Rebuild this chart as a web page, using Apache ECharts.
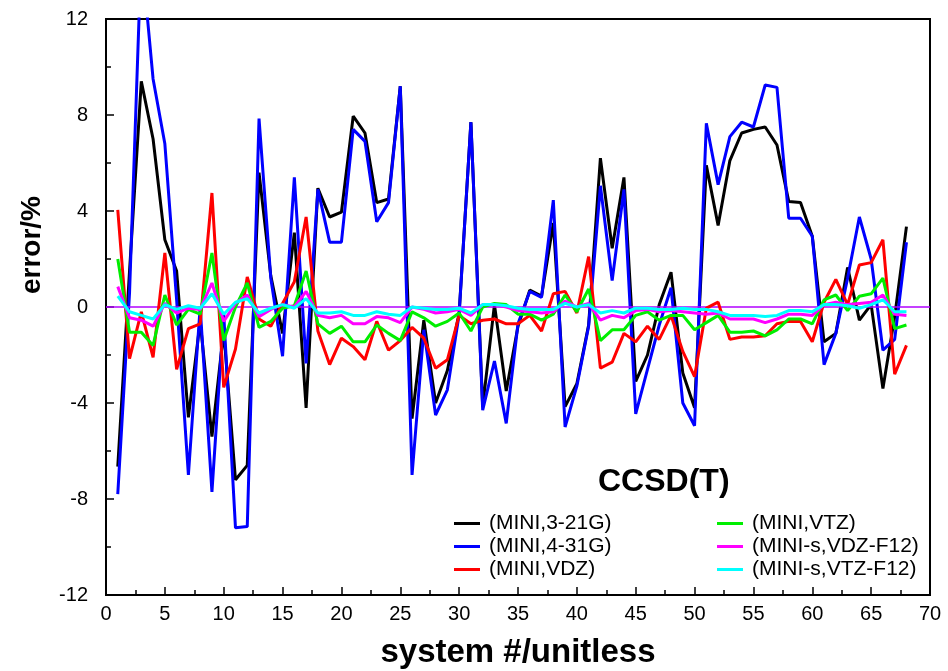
<!DOCTYPE html>
<html>
<head>
<meta charset="utf-8">
<script src="https://cdn.jsdelivr.net/npm/echarts@6/dist/echarts.min.js"></script>
<style>html,body{margin:0;padding:0;background:#fff}#c{width:948px;height:671px}</style>
</head>
<body>
<div id="c"></div>
<script>
var systems = [];
for (var k = 1; k <= 68; k++) systems.push(k);
var seriesNames = ['(MINI,3-21G)', '(MINI,4-31G)', '(MINI,VDZ)', '(MINI,VTZ)', '(MINI-s,VDZ-F12)', '(MINI-s,VTZ-F12)'];
var mini321G = [-6.65,1.5,9.4,7.0,2.8,1.5,-4.6,-0.6,-5.4,-1.0,-7.2,-6.6,5.6,1.3,-1.1,3.1,-4.2,4.95,3.75,3.95,7.95,7.25,4.35,4.5,9.2,-4.65,-0.55,-4.0,-2.65,-0.25,7.7,-4.15,0.1,-3.5,-0.8,0.7,0.45,3.5,-4.15,-3.2,-0.75,6.2,2.45,5.4,-3.1,-2.0,0.1,1.45,-2.75,-4.2,5.9,3.4,6.1,7.25,7.4,7.5,6.75,4.4,4.35,2.95,-1.45,-1.1,1.65,-0.55,0.1,-3.4,-0.4,3.35];
var mini431G = [-7.8,0.6,14.8,9.5,6.8,0.3,-7.0,0.0,-7.7,-0.3,-9.2,-9.15,7.85,1.2,-2.05,5.4,-2.35,4.9,2.7,2.7,7.4,6.9,3.55,4.35,9.2,-7.0,-0.95,-4.5,-3.45,-0.3,7.7,-4.3,-2.25,-4.85,-0.7,0.65,0.4,4.45,-5.0,-3.3,-0.8,5.05,1.1,4.9,-4.45,-2.6,-0.75,0.8,-4.0,-4.95,7.65,5.1,7.1,7.7,7.5,9.25,9.15,3.7,3.7,2.95,-2.4,-1.1,1.2,3.75,2.0,-1.8,-1.35,2.7];
var miniVDZ = [4.05,-2.15,-0.2,-2.1,2.25,-2.6,-0.9,-0.7,4.75,-3.35,-1.75,1.25,-0.5,-0.8,0.15,1.05,3.75,-1.0,-2.4,-1.3,-1.65,-2.2,-0.6,-1.8,-1.4,-0.85,-1.3,-2.55,-2.2,-0.35,-0.7,-0.55,-0.5,-0.7,-0.7,-0.35,-1.0,0.55,0.65,-0.25,2.1,-2.55,-2.3,-1.1,-1.45,-0.8,-1.35,-0.35,-1.85,-2.9,-0.05,0.2,-1.35,-1.25,-1.25,-1.2,-0.7,-0.6,-0.6,-1.45,0.2,1.15,0.1,1.75,1.85,2.8,-2.8,-1.6];
var miniVTZ = [2.0,-1.05,-1.05,-1.6,0.5,-0.75,-0.1,-0.3,2.25,-1.4,0.0,1.0,-0.85,-0.6,-0.05,0.05,1.5,-0.7,-1.1,-0.8,-1.45,-1.45,-0.75,-1.1,-1.4,-0.2,-0.45,-0.8,-0.6,-0.25,-1.0,0.0,0.15,0.1,-0.3,-0.3,-0.55,-0.3,0.5,-0.2,0.75,-1.4,-0.95,-0.95,-0.35,-0.2,-0.55,-0.35,-0.35,-0.95,-0.65,-0.35,-1.05,-1.05,-1.0,-1.2,-0.95,-0.5,-0.5,-0.7,0.3,0.5,-0.15,0.45,0.55,1.2,-0.9,-0.75];
var miniSVDZF12 = [0.85,-0.45,-0.55,-0.8,0.15,-0.25,-0.05,-0.1,1.0,-0.6,0.15,0.5,-0.4,-0.1,0.1,0.0,0.65,-0.35,-0.45,-0.35,-0.7,-0.7,-0.4,-0.45,-0.65,0.0,-0.1,-0.25,-0.2,-0.1,-0.35,0.1,0.1,0.0,-0.15,-0.2,-0.25,-0.2,0.25,0.0,0.15,-0.55,-0.35,-0.45,-0.15,-0.1,-0.2,-0.15,-0.2,-0.25,-0.3,-0.25,-0.5,-0.5,-0.5,-0.65,-0.5,-0.3,-0.3,-0.35,0.1,0.2,0.1,0.15,0.2,0.5,-0.3,-0.35];
var miniSVTZF12 = [0.45,-0.2,-0.35,-0.5,0.1,-0.1,0.05,-0.05,0.55,-0.3,0.2,0.35,-0.25,-0.05,0.1,-0.05,0.35,-0.25,-0.25,-0.2,-0.35,-0.35,-0.2,-0.3,-0.35,0.0,-0.05,-0.1,-0.1,-0.05,-0.25,0.1,0.1,0.05,-0.05,-0.1,-0.1,-0.1,0.15,0.0,0.1,-0.25,-0.15,-0.25,-0.05,-0.05,-0.1,-0.1,-0.05,-0.1,-0.1,-0.2,-0.35,-0.35,-0.35,-0.4,-0.35,-0.15,-0.15,-0.2,0.1,0.1,0.05,-0.05,0.1,0.3,-0.2,-0.2];
var xTicks = [0,5,10,15,20,25,30,35,40,45,50,55,60,65,70];
var yTicks = [-12,-8,-4,0,4,8,12];
var zeroLevel = 0;

var allValues = [mini321G, mini431G, miniVDZ, miniVTZ, miniSVDZF12, miniSVTZF12];
var colors = ['#000000', '#0000ff', '#ff0000', '#00ee00', '#ff00ff', '#00ffff'];
var FONT = "'Liberation Sans', Arial, sans-serif";

function pairs(vals) { return systems.map(function (s, i) { return [s, vals[i]]; }); }

var series = allValues.map(function (vals, idx) {
  return {
    name: seriesNames[idx], type: 'line', data: pairs(vals), symbol: 'none',
    lineStyle: { color: colors[idx], width: 3 }, itemStyle: { color: colors[idx] },
    clip: true, z: 3 + idx
  };
});
series.unshift({
  name: 'zero', type: 'line', data: [], symbol: 'none', z: 2, silent: true,
  markLine: { silent: true, symbol: 'none', animation: false, label: { show: false },
    emphasis: { disabled: true },
    lineStyle: { color: '#b000ff', width: 1.5, type: 'solid', opacity: 1 }, data: [{ yAxis: zeroLevel }] }
});

var legendCommon = {
  orient: 'vertical', icon: 'rect', itemWidth: 26, itemHeight: 3, itemGap: 2,
  textStyle: { fontFamily: FONT, fontSize: 21, color: '#000', padding: [0, 0, 0, 4] }
};

var chart = echarts.init(document.getElementById('c'), null, { renderer: 'canvas' });
chart.setOption({
  animation: false,
  backgroundColor: '#fff',
  title: { text: 'CCSD(T)', left: 593, top: 461,
    textStyle: { fontFamily: FONT, fontSize: 32, fontWeight: 'bold', color: '#000' } },
  legend: [
    Object.assign({ data: seriesNames.slice(0, 3), left: 449, top: 508 }, legendCommon),
    Object.assign({ data: seriesNames.slice(3), left: 712, top: 508 }, legendCommon)
  ],
  grid: { left: 106, right: 18, top: 19, bottom: 76, outerBoundsMode: 'none', containLabel: false,
    show: true, borderColor: '#000', borderWidth: 2, backgroundColor: 'transparent' },
  xAxis: {
    type: 'value', min: xTicks[0], max: xTicks[xTicks.length - 1], interval: 5,
    name: 'system #/unitless', nameLocation: 'middle', nameGap: 41,
    nameTextStyle: { fontFamily: FONT, fontSize: 33, fontWeight: 'bold', color: '#000' },
    axisLine: { show: true, onZero: false, lineStyle: { color: '#000', width: 2 } },
    axisTick: { show: true, inside: true, length: 8, lineStyle: { color: '#000', width: 1.5 } },
    minorTick: { show: true, splitNumber: 2, length: 5, lineStyle: { color: '#000', width: 1.5 } },
    axisLabel: { fontFamily: FONT, fontSize: 20, color: '#000', margin: 9 },
    splitLine: { show: false }
  },
  yAxis: {
    type: 'value', min: yTicks[0], max: yTicks[yTicks.length - 1], interval: 4,
    name: 'error/%', nameLocation: 'middle', nameGap: 60,
    nameTextStyle: { fontFamily: FONT, fontSize: 28, fontWeight: 'bold', color: '#000', padding: [0, 0, 0, 124] },
    axisLine: { show: true, onZero: false, lineStyle: { color: '#000', width: 2 } },
    axisTick: { show: true, inside: true, length: 8, lineStyle: { color: '#000', width: 1.5 } },
    minorTick: { show: true, splitNumber: 2, length: 5, lineStyle: { color: '#000', width: 1.5 } },
    axisLabel: { fontFamily: FONT, fontSize: 20, color: '#000', margin: 18 },
    splitLine: { show: false }
  },
  series: series
});
</script>
</body>
</html>
